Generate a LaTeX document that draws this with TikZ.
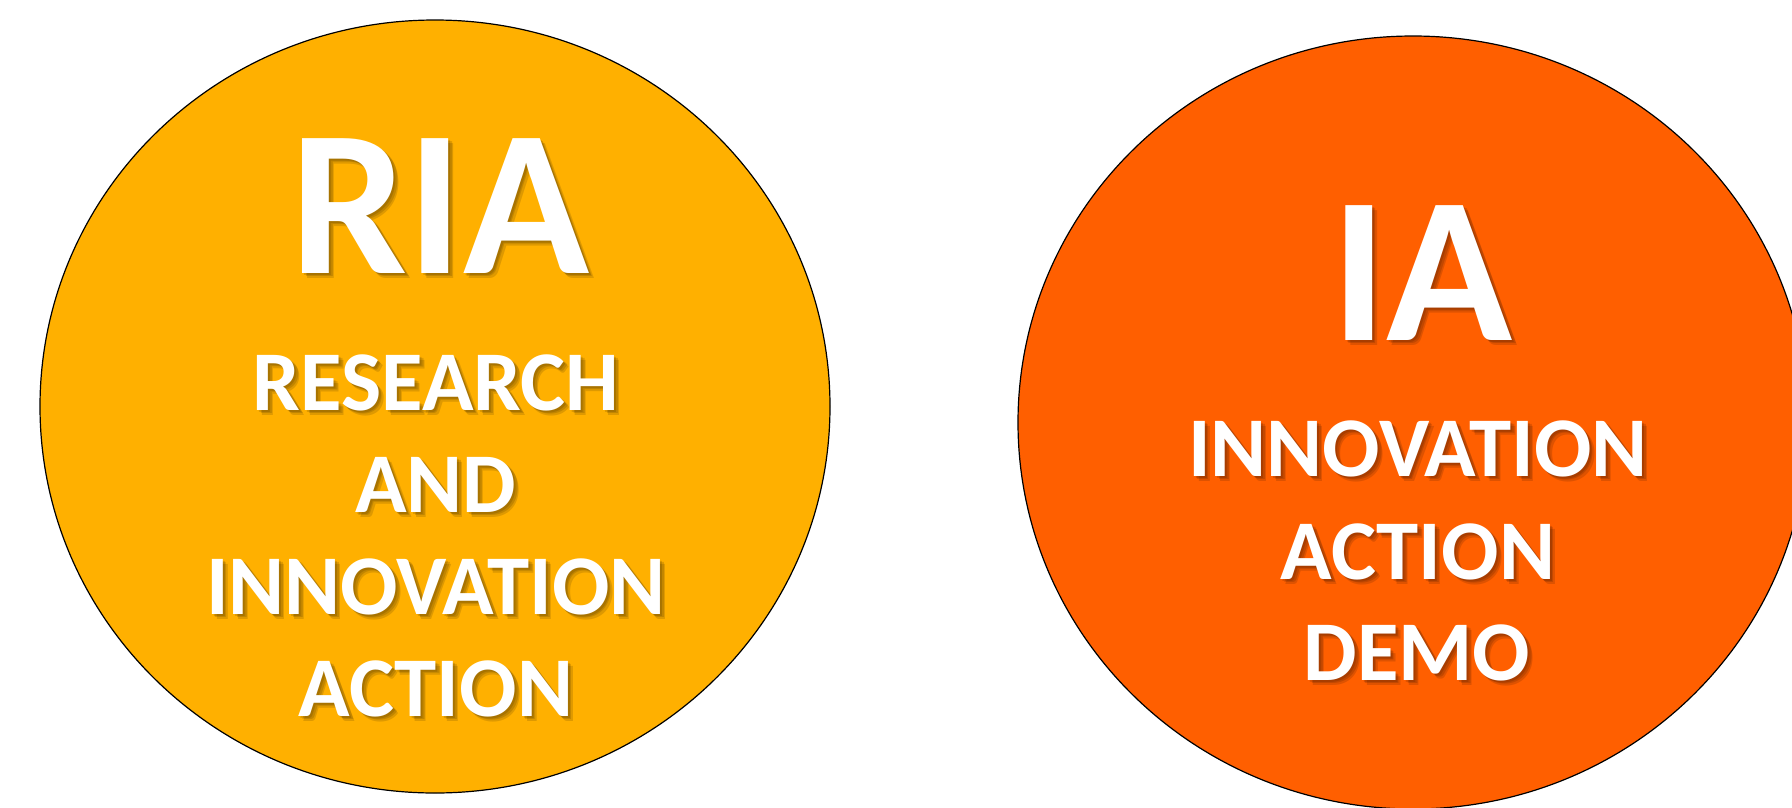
\documentclass[tikz,border=0pt]{standalone}
\usepackage{fontspec}
\setmainfont{Carlito}
\usetikzlibrary{shapes.geometric}
\definecolor{riafill}{RGB}{255,176,0}
\definecolor{iafill}{RGB}{255,95,0}
\tikzset{
  bubble/.style={ellipse, draw=black, line width=1.2pt, inner sep=0pt,
    minimum width=790pt, minimum height=773pt},
  bigtxt/.style={anchor=base, inner sep=0pt, text=white,
    font=\fontsize{208}{208}\selectfont\bfseries},
  smalltxt/.style={anchor=base, inner sep=0pt, text=white,
    font=\fontsize{85}{85}\selectfont\bfseries},
  shad/.style={text=black, opacity=0.13}
}
\newcommand{\shtext}[4]{% style, name, position, text
  \node[#1, shad] (#2s3) at ([shift={(5pt,-5pt)}]#3) {#4};
  \node[#1, shad] (#2s2) at ([shift={(3.5pt,-3.5pt)}]#3) {#4};
  \node[#1, shad] (#2s1) at ([shift={(2pt,-2pt)}]#3) {#4};
  \node[#1] (#2) at (#3) {#4};
}
\begin{document}
\begin{tikzpicture}[x=1pt,y=-1pt]
\useasboundingbox (0,0) rectangle (1792,807);
\clip (0,0) rectangle (1792,807);
\node[bubble, fill=riafill] (ria) at (435,406.5) {};
\node[bubble, fill=iafill] (ia) at (1413,422.5) {};
% left texts
\shtext{bigtxt}{riaT}{440,273}{RIA}
\shtext{smalltxt}{l1}{436,410}{RESEARCH}
\shtext{smalltxt}{l2}{436,512}{AND}
\shtext{smalltxt}{l3}{436,614}{INNOVATION}
\shtext{smalltxt}{l4}{436,716}{ACTION}
% right texts
\shtext{bigtxt}{iaT}{1422,340}{IA}
\shtext{smalltxt}{r1}{1418,476}{INNOVATION}
\shtext{smalltxt}{r2}{1418,579}{ACTION}
\shtext{smalltxt}{r3}{1417,680}{DEMO}
\end{tikzpicture}
\end{document}
